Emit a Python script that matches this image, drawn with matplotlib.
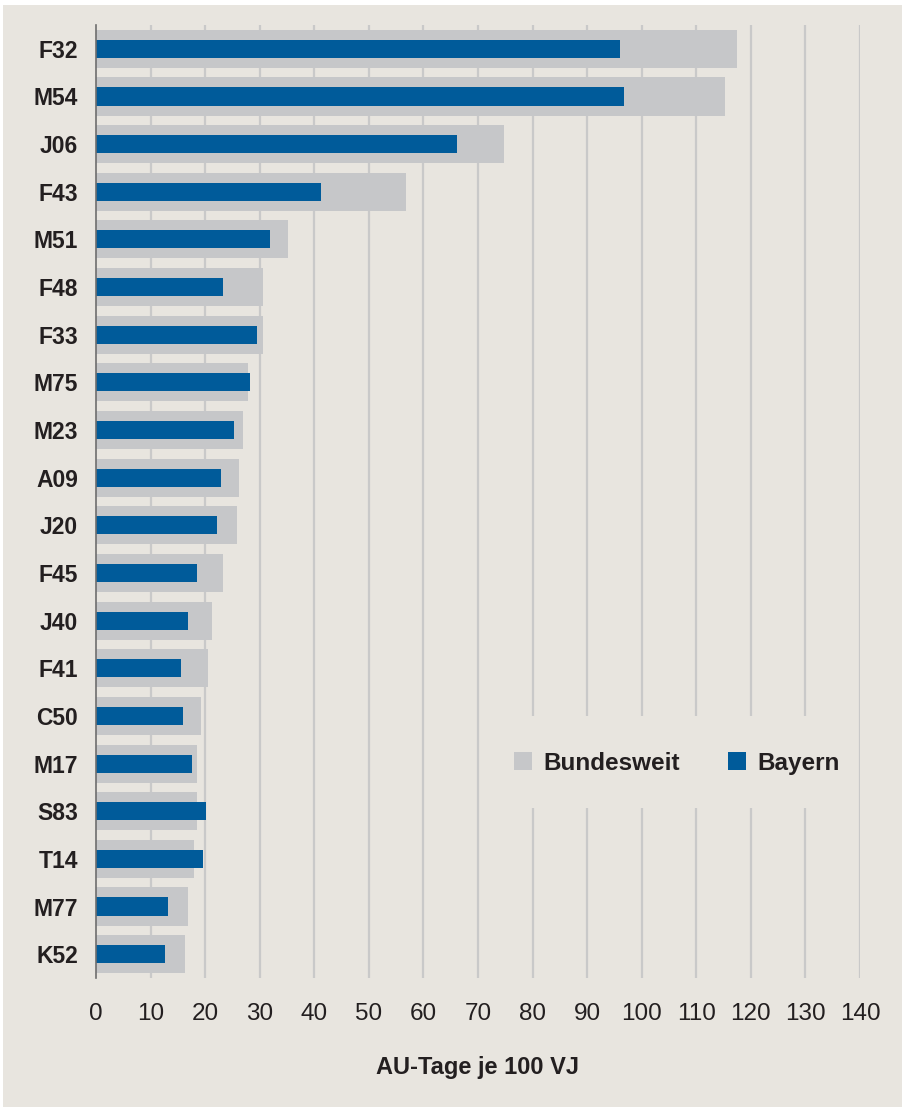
import matplotlib
matplotlib.use("Agg")
import matplotlib.pyplot as plt
from matplotlib.patches import Rectangle, Patch

# AU-Tage je 100 VJ nach Diagnose
diagnosen = ["F32", "M54", "J06", "F43", "M51", "F48", "F33", "M75", "M23", "A09",
             "J20", "F45", "J40", "F41", "C50", "M17", "S83", "T14", "M77", "K52"]
bundesweit = [117.5, 115.3, 74.8, 56.8, 35.2, 30.6, 30.6, 27.9, 26.9, 26.2,
              25.8, 23.3, 21.3, 20.5, 19.2, 18.5, 18.5, 18.0, 16.9, 16.3]
bayern = [96.0, 96.8, 66.1, 41.2, 31.9, 23.3, 29.5, 28.2, 25.3, 22.9,
          22.2, 18.5, 16.9, 15.6, 15.9, 17.6, 20.2, 19.6, 13.2, 12.6]
xticks = list(range(0, 150, 10))

BG = "#E8E5DF"
GREY = "#C6C7C9"
BLUE = "#005B9A"
TXT = "#231F20"

plt.rcParams["font.family"] = ["Liberation Sans", "DejaVu Sans"]

fig = plt.figure(figsize=(9.03, 11.07), dpi=100, facecolor="white")
bg = Rectangle((3 / 903, 0), 1, 1 - 5 / 1107, transform=fig.transFigure,
               facecolor=BG, edgecolor="none", zorder=-10)
fig.add_artist(bg)

ax = fig.add_axes([96 / 903, 1 - 978 / 1107, 764 / 903, 953 / 1107])
ax.set_zorder(1)
ax.patch.set_visible(False)

pos = list(range(len(diagnosen)))
for x in xticks[1:]:
    ax.axvline(x, color="#C9C9C9", lw=1.6, zorder=0.5)

ax.barh(pos, bundesweit, height=0.8, color=GREY, zorder=2)
ax.barh(pos, bayern, height=0.38, color=BLUE, zorder=3)

ax.set_xlim(0, 140)
ax.set_ylim(len(diagnosen) - 0.5, -0.5)
ax.set_yticks(pos)
ax.set_yticklabels(diagnosen, fontsize=16.5, fontweight="bold", color=TXT)
ax.set_xticks(xticks)
ax.set_xticklabels([str(v) for v in xticks], fontsize=17.5, color=TXT)
ax.tick_params(axis="y", length=0, pad=13)
ax.tick_params(axis="x", length=0, pad=18)

for s in ["top", "right", "bottom"]:
    ax.spines[s].set_visible(False)
ax.spines["left"].set_color("#6E6E6E")
ax.spines["left"].set_linewidth(1.2)
ax.spines["left"].set_zorder(4)

ax.set_xlabel("AU-Tage je 100 VJ", fontsize=17, fontweight="bold", color=TXT, labelpad=22)

# Legendenfeld zwischen den Gitterlinien 70 und 140
ax.add_patch(Rectangle((0.5055, 0.178), 0.4905, 0.097, transform=ax.transAxes,
                       facecolor=BG, edgecolor="none", zorder=1))
handles = [Patch(facecolor=GREY, edgecolor="none", label="Bundesweit"),
           Patch(facecolor=BLUE, edgecolor="none", label="Bayern")]
leg = ax.legend(handles=handles, ncol=2, frameon=False, loc="center",
                bbox_to_anchor=(0.760, 0.2256), handlelength=0.74, handleheight=0.74,
                handletextpad=0.45, columnspacing=2.0,
                prop={"size": 17.5, "weight": "bold"})
for t in leg.get_texts():
    t.set_color(TXT)
leg.set_zorder(5)

fig.savefig("out.png", dpi=100, facecolor="white")
